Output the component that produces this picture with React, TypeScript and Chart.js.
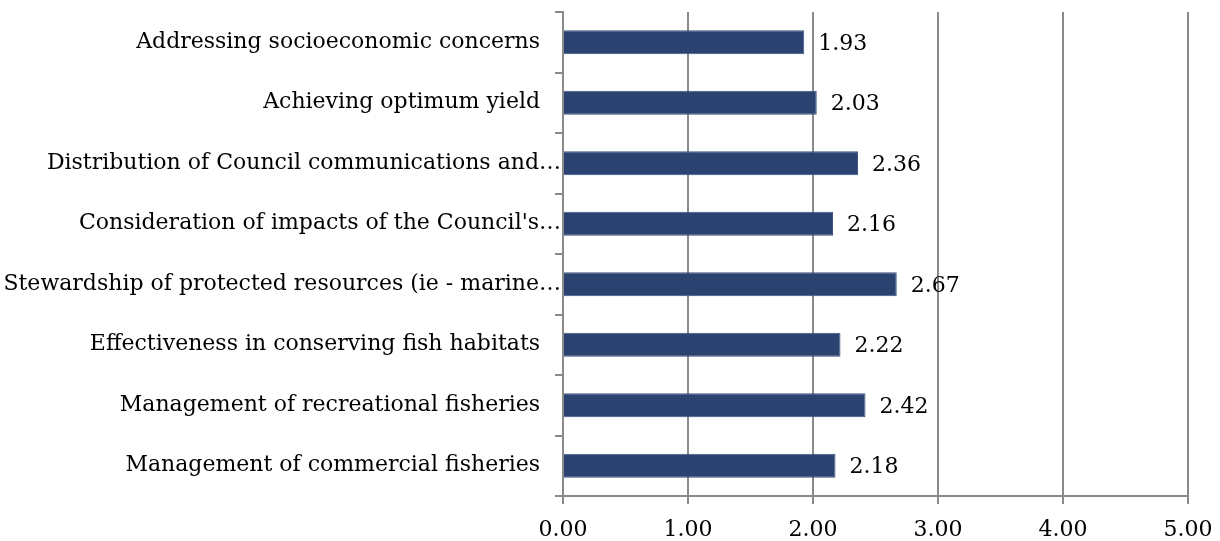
import React, { useEffect, useRef } from "react";
import { Chart, registerables } from "chart.js";

Chart.register(...registerables);

const categories = [
  "Addressing socioeconomic concerns",
  "Achieving optimum yield",
  "Distribution of Council communications and…",
  "Consideration of impacts of the Council's…",
  "Stewardship of protected resources (ie - marine…",
  "Effectiveness in conserving fish habitats",
  "Management of recreational fisheries",
  "Management of commercial fisheries",
];
const values = [1.93, 2.03, 2.36, 2.16, 2.67, 2.22, 2.42, 2.18];
const xTicks = [0, 1, 2, 3, 4, 5];

const FONT = "'DejaVu Serif', 'Liberation Serif', serif";
const FSIZE = 22;
const GRID = "#8a8a8a";

const valueLabels = {
  id: "valueLabels",
  afterDatasetsDraw(chart: any) {
    const ctx = chart.ctx;
    const meta = chart.getDatasetMeta(0);
    ctx.save();
    ctx.font = `${FSIZE}px ${FONT}`;
    ctx.fillStyle = "#000";
    ctx.textAlign = "left";
    ctx.textBaseline = "middle";
    meta.data.forEach((el: any, i: number) => {
      ctx.fillText(values[i].toFixed(2), el.x + 14, el.y + 2);
    });
    ctx.restore();
  },
};

export default function App() {
  const ref = useRef<HTMLCanvasElement | null>(null);
  useEffect(() => {
    document.body.style.margin = "0";
    const chart = new Chart(ref.current!, {
      type: "bar",
      data: {
        labels: categories,
        datasets: [
          {
            data: values,
            backgroundColor: "#2B4371",
            borderColor: "#3E5482",
            borderWidth: 1,
            categoryPercentage: 1,
            barPercentage: 0.4,
          },
        ],
      },
      options: {
        indexAxis: "y",
        animation: false,
        responsive: false,
        layout: { padding: { top: 12, right: 32, left: 0, bottom: 0 } },
        plugins: { legend: { display: false }, tooltip: { enabled: false } },
        scales: {
          x: {
            min: 0,
            max: 5,
            afterBuildTicks: (s: any) => {
              s.ticks = xTicks.map((v) => ({ value: v }));
            },
            afterFit: (s: any) => {
              s.height = 45;
              s.paddingLeft = 0;
              s.paddingRight = 0;
            },
            grid: { color: GRID, lineWidth: 2, tickLength: 8, tickColor: GRID },
            border: { display: true, color: GRID, width: 2 },
            ticks: {
              color: "#000",
              font: { family: FONT, size: FSIZE },
              padding: 13,
              callback: (v: any) => Number(v).toFixed(2),
            },
          },
          y: {
            afterFit: (s: any) => {
              s.width = 563;
              s.paddingTop = 0;
              s.paddingBottom = 0;
            },
            grid: {
              offset: true,
              drawOnChartArea: false,
              color: GRID,
              lineWidth: 2,
              tickLength: 8,
            },
            border: { display: true, color: GRID, width: 2 },
            ticks: {
              color: "#000",
              font: { family: FONT, size: FSIZE },
              padding: -6,
              autoSkip: false,
              callback: (_v: any, i: number) => {
                const l = categories[i];
                return l.endsWith("…") ? l : l + "   ";
              },
            },
          },
        },
      },
      plugins: [valueLabels],
    });
    return () => chart.destroy();
  }, []);
  return <canvas ref={ref} width={1220} height={541} style={{ display: "block" }} />;
}
